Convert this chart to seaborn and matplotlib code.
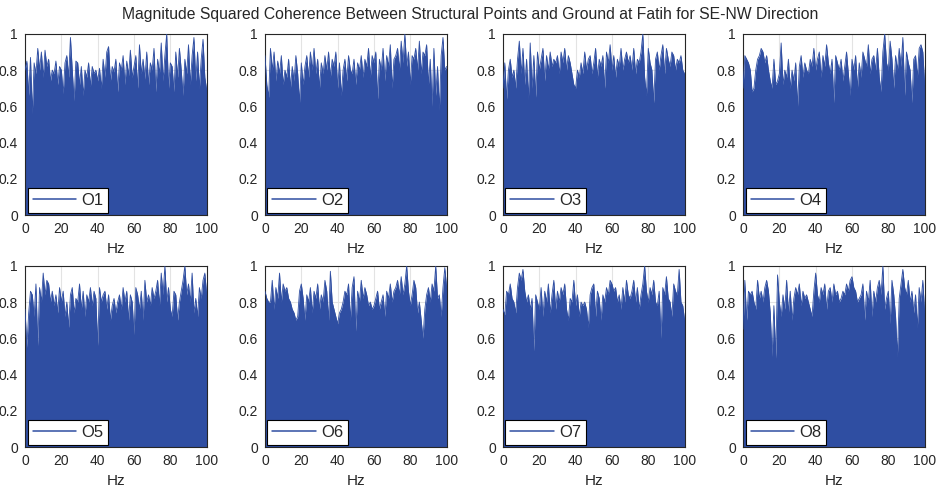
import numpy as np
import pandas as pd
import matplotlib
matplotlib.use('Agg')
import matplotlib.pyplot as plt
import seaborn as sns

# =====================================
# DATA (coherence envelope, 0-100 Hz)
# =====================================

labels = ['O1', 'O2', 'O3', 'O4', 'O5', 'O6', 'O7', 'O8']

o1 = [0.80,0.85,0.66,0.87,0.56,0.84,0.78,0.92,0.80,0.90,0.76,0.91,0.82,0.86,0.74,0.80,0.78,0.85,0.72,0.82,
      0.80,0.67,0.84,0.88,0.76,0.98,0.80,0.63,0.85,0.84,0.72,0.82,0.66,0.80,0.76,0.84,0.71,0.82,0.78,0.80,
      0.74,0.81,0.70,0.86,0.76,0.90,0.93,0.74,0.82,0.79,0.86,0.68,0.84,0.80,0.88,0.72,0.85,0.77,0.91,0.76,
      0.82,0.88,0.70,0.94,0.78,0.86,0.75,0.90,0.72,0.84,0.80,0.92,0.68,0.86,0.78,0.95,0.74,0.88,1.00,0.70,
      0.84,0.82,0.68,0.90,0.76,0.92,0.80,0.66,0.86,0.78,0.94,0.72,0.88,0.98,0.74,0.90,0.70,0.86,0.97,0.76,0.69]
o2 = [0.88,0.72,0.65,0.92,0.80,0.90,0.74,0.85,0.78,0.88,0.72,0.80,0.76,0.86,0.70,0.82,0.74,0.88,0.78,0.62,
      0.84,0.72,0.82,0.88,0.76,0.90,0.80,0.92,0.78,0.86,0.70,0.84,0.78,0.88,0.80,0.90,0.76,0.86,0.82,0.90,
      0.70,0.84,0.66,0.80,0.86,0.74,0.88,0.80,0.78,0.86,0.72,0.84,0.80,0.88,0.76,0.86,0.82,0.92,0.76,0.88,
      0.84,0.90,0.64,0.86,0.80,0.92,0.74,0.88,0.82,0.94,0.70,0.86,0.88,0.92,0.80,0.96,0.84,1.00,0.82,0.90,
      0.72,0.88,0.86,0.92,0.80,0.96,0.78,0.90,0.88,0.94,0.72,0.86,0.60,0.92,0.66,0.82,0.58,0.88,0.98,0.80,0.82]
o3 = [0.70,0.84,0.64,0.80,0.86,0.76,0.80,0.70,0.86,0.96,0.78,0.92,0.72,0.86,0.64,0.95,0.70,0.88,0.65,0.90,
      0.80,0.86,0.92,0.74,0.88,0.80,0.90,0.82,0.86,0.84,0.88,0.78,0.90,0.84,0.92,0.80,0.88,0.84,0.78,0.72,
      0.70,0.80,0.76,0.84,0.78,0.90,0.80,0.86,0.88,0.78,0.84,0.92,0.76,0.86,0.82,0.88,0.70,0.90,0.84,0.94,
      0.80,0.88,0.76,0.86,0.82,0.92,0.80,0.86,0.90,0.84,0.88,0.80,0.92,0.78,0.86,0.84,0.90,1.00,0.76,0.66,
      0.92,0.84,0.80,0.62,0.86,0.90,0.80,0.88,0.94,0.78,0.92,0.86,0.82,0.90,0.88,0.80,0.86,0.84,0.88,0.80,0.78]
o4 = [0.70,0.88,0.86,0.84,0.80,0.68,0.70,0.80,0.86,0.88,0.92,0.90,0.84,0.88,0.80,0.74,0.70,0.86,0.72,0.74,
      0.78,0.95,0.72,0.80,0.76,0.86,0.70,0.80,0.74,0.84,0.60,0.82,0.88,0.76,0.84,0.80,0.78,0.86,0.82,0.92,
      0.80,0.86,0.90,0.76,0.88,0.82,0.94,0.84,0.78,0.86,0.62,0.88,0.84,0.80,0.86,0.74,0.82,0.90,0.78,0.66,
      0.86,0.80,0.88,0.70,0.84,0.76,0.90,0.86,0.82,0.94,0.78,0.86,0.88,0.80,0.92,0.76,0.68,0.90,1.00,0.84,
      0.80,0.96,0.86,0.70,0.88,0.80,0.92,0.82,0.98,0.66,0.90,0.84,0.80,0.62,0.86,0.88,0.76,0.92,0.94,0.90,0.72]
o5 = [0.76,0.55,0.74,0.86,0.84,0.72,0.90,0.56,0.88,0.80,0.96,0.84,0.92,0.90,0.80,0.86,0.78,0.84,0.74,0.88,
      0.80,0.86,0.72,0.80,0.66,0.84,0.88,0.74,0.82,0.80,0.90,0.76,0.86,0.72,0.84,0.80,0.88,0.78,0.86,0.82,
      0.56,0.88,0.80,0.84,0.86,0.76,0.84,0.70,0.78,0.82,0.74,0.80,0.84,0.76,0.88,0.80,0.86,0.70,0.84,0.80,
      0.62,0.88,0.84,0.76,0.86,0.70,0.92,0.80,0.84,0.78,0.88,0.82,0.86,0.92,0.78,0.96,0.84,1.00,0.80,0.88,
      0.76,0.72,0.86,0.84,0.70,0.80,0.86,0.92,1.00,0.84,0.90,0.80,0.96,0.74,0.82,0.72,0.88,0.82,0.92,0.96,0.84]
o6 = [0.86,0.82,0.80,0.80,0.92,0.76,0.88,0.82,0.96,0.80,0.90,0.86,0.88,0.82,0.80,0.76,0.74,0.70,0.72,0.86,
      0.90,0.82,0.70,0.84,0.80,0.88,0.74,0.86,0.82,0.90,0.76,0.84,0.80,0.92,0.86,0.70,0.97,0.80,0.76,0.72,
      0.68,0.74,0.76,0.80,0.86,0.84,0.90,0.70,0.88,0.94,0.64,0.86,0.80,0.92,0.82,0.88,0.84,0.78,0.80,0.76,
      0.78,0.82,0.86,0.76,0.80,0.84,0.72,0.86,0.82,0.90,0.80,0.86,0.88,0.92,0.84,0.94,0.84,0.90,1.00,0.86,
      0.78,0.84,0.92,0.88,0.74,0.80,0.70,0.60,0.76,0.84,0.88,0.80,0.90,0.86,1.00,0.82,0.84,0.72,0.88,0.99,0.88]
o7 = [0.76,0.73,0.86,0.84,0.90,0.82,0.80,0.74,0.88,0.96,0.92,0.98,0.86,0.80,0.84,0.76,0.82,0.53,0.84,0.80,
      0.76,0.88,0.72,0.86,0.80,0.90,0.74,0.84,0.92,0.76,0.86,0.80,0.88,0.84,0.90,0.76,0.70,0.82,0.80,0.92,
      0.78,0.84,0.72,0.80,0.78,0.80,0.76,0.66,0.84,0.88,0.90,0.72,0.86,0.82,0.70,0.84,0.80,0.88,0.84,0.92,
      0.90,0.86,0.88,0.80,0.84,0.76,0.88,0.80,0.92,0.84,0.82,0.86,0.92,0.80,0.88,0.76,0.84,0.90,1.00,0.86,
      0.80,0.88,0.84,0.92,0.80,0.78,0.86,0.60,0.88,0.84,0.94,0.82,0.80,0.72,0.90,0.86,0.84,0.98,0.80,0.78,0.70]
o8 = [0.65,0.92,0.70,0.86,0.84,0.86,0.80,0.76,0.92,0.82,0.86,0.80,0.88,0.92,0.86,0.74,0.50,0.78,0.49,0.95,
      0.80,0.72,0.84,0.76,0.92,0.74,0.86,0.70,0.82,0.88,0.84,0.90,0.78,0.86,0.82,0.84,0.80,0.76,0.72,0.86,
      0.96,0.84,0.80,0.88,0.84,0.90,0.76,0.86,0.88,0.80,0.90,0.84,0.86,0.80,0.82,0.86,0.84,0.90,0.86,0.92,
      0.94,0.88,0.86,0.80,0.82,0.84,0.90,0.70,0.86,0.80,0.92,0.72,0.86,0.80,0.88,0.92,0.84,1.00,0.76,0.82,
      0.86,0.68,0.92,0.84,0.72,0.50,0.82,0.90,0.98,0.88,0.84,0.92,0.80,0.86,0.74,0.84,0.66,0.88,0.80,0.92,0.74]

series = [o1, o2, o3, o4, o5, o6, o7, o8]

x_ticks = [0, 20, 40, 60, 80, 100]
y_ticks = [0, 0.2, 0.4, 0.6, 0.8, 1]
y_tick_labels = ['0', '0.2', '0.4', '0.6', '0.8', '1']

title = 'Magnitude Squared Coherence Between Structural Points and Ground at Fatih for SE-NW Direction'

# =====================================
# PLOT
# =====================================

sns.set_style('white')
plt.rcParams['font.family'] = ['Liberation Sans', 'DejaVu Sans']

blue = '#2f4ea2'

fig = plt.figure(figsize=(9.41, 4.91), dpi=100)

lefts = [0.0266, 0.2816, 0.5345, 0.7896]
bottoms = [0.562, 0.0896]
w, h = 0.193, 0.369

for i, (lab, vals) in enumerate(zip(labels, series)):
    ax = fig.add_axes([lefts[i % 4], bottoms[i // 4], w, h])

    df = pd.DataFrame({
        'Hz': np.linspace(0, 100, len(vals)),
        'coh': vals
    })

    ax.grid(True, color='#e3e3e3', lw=0.8, zorder=0)
    ax.set_axisbelow(True)

    ax.fill_between(df['Hz'], 0, df['coh'], color=blue, lw=0, zorder=2)
    sns.lineplot(data=df, x='Hz', y='coh', ax=ax,
                 color=blue, lw=0.6, label=lab, zorder=3)

    ax.set_xlim(0, 100)
    ax.set_ylim(0, 1)
    ax.set_xticks(x_ticks)
    ax.set_yticks(y_ticks)
    ax.set_yticklabels(y_tick_labels)
    ax.tick_params(direction='in', length=3, labelsize=10,
                   colors='#262626', pad=5)
    ax.set_xlabel('Hz', fontsize=11, color='#262626', labelpad=4)
    ax.set_ylabel('')

    for s in ax.spines.values():
        s.set_color('#262626')
        s.set_linewidth(0.8)

    leg = ax.legend(loc='lower left', fontsize=12, frameon=True,
                    fancybox=False, handlelength=2.6, handletextpad=0.3,
                    borderpad=0.3, borderaxespad=0.15)
    leg.get_frame().set_edgecolor('black')
    leg.get_frame().set_linewidth(0.8)
    leg.get_frame().set_alpha(1)
    for hl in leg.get_lines():
        hl.set_linewidth(1.1)

fig.suptitle(title, fontsize=11.3, y=0.985)

plt.savefig('out.png', dpi=100)
